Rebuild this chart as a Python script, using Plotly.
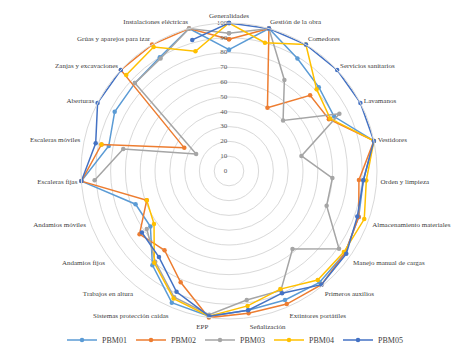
import plotly.graph_objects as go

categories = ["Generalidades", "Gestión de la obra", "Comedores", "Servicios sanitarios",
              "Lavamanos", "Vestidores", "Orden y limpieza", "Almacenamiento materiales",
              "Manejo manual de cargas", "Primeros auxilios", "Extintores portátiles",
              "Señalización", "EPP", "Sistemas protección caídas", "Trabajos en altura",
              "Andamios fijos", "Andamios móviles", "Escaleras fijas", "Escaleras móviles",
              "Aberturas", "Zanjas y excavaciones", "Grúas y aparejos para izar",
              "Instalaciones eléctricas"]

PBM01 = [82, 100, 89, 83, 80, 100, 91, 93, 96, 97, 95, 95, 99, 97, 82, 65, 67, 100, 83, 87, 87, 90, 100]
PBM02 = [89, 100, 50, 75, 76, 100, 88, 93, 96, 99, 98, 97, 100, 82, 69, 74, 59, 100, 88, 34, 100, 100, 100]
PBM03 = [93, 100, 72, 50, 84, 50, 70, 70, 91, 68, 88, 88, 98, 93, 79, 68, None, 91, 73, 25, 87, 89, 100]
PBM04 = [100, 90, 100, 81, 77, 100, 93, 97, 95, 95, 87, 92, 99, 94, 80, 62, 59, None, 88, None, 95, 98, 84]
PBM05 = [100, 100, 100, 100, 100, 100, 91, 92, 97, 99, 90, 95, 99, 89, 75, 72, None, 100, 92, 100, 100, None, 92]

series_names = ["PBM01", "PBM02", "PBM03", "PBM04", "PBM05"]
series_values = [PBM01, PBM02, PBM03, PBM04, PBM05]
colors = ["#5B9BD5", "#ED7D31", "#A5A5A5", "#FFC000", "#4472C4"]
radial_ticks = list(range(0, 101, 10))
radial_tick_labels = [str(v) for v in radial_ticks]

FONT = "Liberation Serif"

fig = go.Figure()
for name, vals, col in zip(series_names, series_values, colors):
    fig.add_trace(go.Scatterpolar(
        r=vals + [vals[0]],
        theta=categories + [categories[0]],
        mode="lines+markers",
        name=name,
        line=dict(color=col, width=1.5),
        marker=dict(color=col, size=4.5, symbol="circle"),
        connectgaps=False,
    ))

# radial tick labels, placed to the left of the vertical axis
fig.add_trace(go.Scatterpolar(
    r=radial_ticks,
    theta=[categories[0]] * len(radial_ticks),
    mode="text",
    text=[t + "\u00a0" for t in radial_tick_labels],
    textposition="middle left",
    textfont=dict(family=FONT, size=7, color="#595959"),
    showlegend=False,
    hoverinfo="skip",
))

# empty, invisible legend entry that keeps the last legend label from being clipped
fig.add_trace(go.Scatterpolar(
    r=[], theta=[], mode="lines", name="",
    line=dict(color="rgba(0,0,0,0)", width=0),
    hoverinfo="skip",
))

# page body has an 8px default margin: the figure is sized and placed to compensate
OFF = 8
W, H = 469 - OFF, 353 - OFF
cx, cy, R = 229 - OFF, 171 - OFF, 148
fig.update_layout(
    width=W, height=H,
    margin=dict(l=0, r=0, t=0, b=0, pad=0, autoexpand=False),
    paper_bgcolor="white",
    plot_bgcolor="white",
    font=dict(family=FONT, size=7, color="#404040"),
    polar=dict(
        domain=dict(x=[(cx - R) / W, (cx + R) / W], y=[(H - cy - R) / H, (H - cy + R) / H]),
        bgcolor="white",
        angularaxis=dict(direction="clockwise", rotation=90, showgrid=False,
                         showline=True, linecolor="#D9D9D9", linewidth=1,
                         ticks="outside", ticklen=2, tickcolor="rgba(0,0,0,0)",
                         tickfont=dict(family=FONT, size=7, color="#404040")),
        radialaxis=dict(range=[0, 100], tickvals=radial_ticks, angle=90,
                        showticklabels=False,
                        showline=False, ticks="", gridcolor="#D9D9D9", gridwidth=1),
    ),
    legend=dict(orientation="h", x=(62 - OFF) / W, xanchor="left",
                y=(H - (340 - OFF)) / H, yanchor="middle",
                bgcolor="rgba(0,0,0,0)",
                font=dict(family=FONT, size=8, color="#404040"),
                itemwidth=30, entrywidth=24, entrywidthmode="pixels"),
)

fig.write_html("out.html")
